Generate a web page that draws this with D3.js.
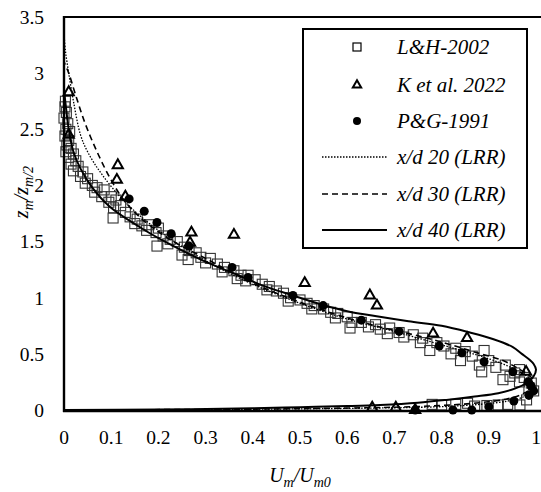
<!DOCTYPE html>
<html>
<head>
<meta charset="utf-8">
<script src="https://cdn.jsdelivr.net/npm/d3@7"></script>
<style>
  body { margin: 0; background: #fff; }
  svg { display: block; }
</style>
</head>
<body>
<svg id="chart" width="541" height="492"></svg>
<script>

// ---- data (u = U_m/U_m0, z = z_m/z_m/2) ----
var xTicks = [0, 0.1, 0.2, 0.3, 0.4, 0.5, 0.6, 0.7, 0.8, 0.9, 1];
var yTicks = [0, 0.5, 1, 1.5, 2, 2.5, 3, 3.5];

// L&H-2002 (open squares)
var lh2002 = [
  [0.003,2.75],[0.002,2.7],[0.005,2.65],[0.0,2.6],[0.008,2.55],[0.004,2.5],[0.012,2.48],
  [0.002,2.44],[0.01,2.4],[0.006,2.36],[0.015,2.33],[0.004,2.3],[0.02,2.28],[0.01,2.25],
  [0.025,2.22],[0.015,2.19],[0.03,2.17],[0.02,2.13],[0.04,2.12],[0.035,2.08],[0.05,2.06],
  [0.045,2.02],[0.06,2.0],[0.07,1.98],[0.065,1.94],[0.085,1.96],[0.08,1.9],[0.1,1.9],
  [0.095,1.85],[0.11,1.87],[0.105,1.8],[0.12,1.82],[0.104,1.71],[0.13,1.76],[0.14,1.72],
  [0.155,1.7],[0.15,1.66],[0.165,1.64],[0.18,1.65],[0.175,1.6],[0.195,1.58],[0.2,1.62],
  [0.197,1.46],[0.21,1.55],[0.225,1.52],[0.22,1.48],[0.24,1.5],[0.255,1.45],[0.265,1.42],
  [0.25,1.38],[0.263,1.34],[0.28,1.4],[0.29,1.36],[0.31,1.35],[0.3,1.31],[0.325,1.3],
  [0.34,1.27],[0.335,1.23],[0.36,1.24],[0.367,1.17],[0.375,1.2],[0.39,1.2],[0.385,1.15],
  [0.405,1.16],[0.42,1.12],[0.435,1.1],[0.43,1.07],[0.45,1.06],[0.465,1.04],[0.48,1.0],
  [0.475,0.97],[0.5,0.98],[0.515,0.95],[0.53,0.93],[0.525,0.9],[0.55,0.9],[0.565,0.87],
  [0.58,0.86],[0.575,0.82],[0.6,0.83],[0.61,0.78],[0.606,0.73],[0.63,0.78],[0.645,0.74],
  [0.66,0.76],[0.67,0.72],[0.69,0.73],[0.685,0.68],[0.71,0.69],[0.72,0.65],[0.74,0.67],
  [0.755,0.6],[0.76,0.64],[0.775,0.53],[0.79,0.6],[0.805,0.57],[0.82,0.5],[0.83,0.55],
  [0.84,0.44],[0.85,0.52],[0.865,0.48],[0.88,0.4],[0.89,0.53],[0.885,0.34],[0.9,0.44],
  [0.915,0.38],[0.93,0.27],[0.935,0.4],[0.945,0.3],[0.955,0.33],[0.965,0.36],[0.965,0.25],
  [0.975,0.29],[0.985,0.2],[0.99,0.24],[0.995,0.17],[0.98,0.09],[0.966,0.045],[0.94,0.05],
  [0.92,0.045],[0.896,0.04],[0.87,0.035],[0.855,0.06],[0.83,0.05],[0.8,0.045],[0.78,0.05]
];

// K et al. 2022 (open triangles)
var ket2022 = [
  [0.01,2.83],[0.01,2.45],[0.114,2.18],[0.112,2.05],[0.13,1.9],[0.27,1.58],[0.267,1.49],
  [0.36,1.56],[0.51,1.13],[0.648,1.02],[0.663,0.93],[0.782,0.68],[0.854,0.64],[0.979,0.34],
  [0.653,0.02],[0.703,0.02],[0.744,0.0]
];

// P&G-1991 (filled circles)
var pg1991 = [
  [0.138,1.88],[0.17,1.77],[0.197,1.67],[0.227,1.57],[0.265,1.46],[0.356,1.27],[0.39,1.18],
  [0.485,1.02],[0.549,0.93],[0.63,0.8],[0.71,0.7],[0.795,0.57],[0.843,0.51],[0.89,0.43],
  [0.951,0.34],[0.983,0.25],[0.99,0.21],[0.995,0.17],[0.985,0.13],[0.953,0.08],[0.9,0.03],
  [0.864,0.0],[0.824,0.0],[0.744,0.0]
];

// LRR profiles
var lrr20 = [
  [0,0],[0.3,0.004],[0.5,0.01],[0.7,0.02],[0.8,0.03],[0.88,0.05],[0.94,0.08],[0.975,0.12],
  [0.99,0.17],[0.995,0.22],[0.99,0.27],[0.97,0.33],[0.93,0.41],[0.875,0.49],[0.8,0.58],
  [0.7,0.7],[0.6,0.81],[0.5,0.95],[0.4,1.12],[0.3,1.33],[0.2,1.6],[0.13,1.85],[0.08,2.1],
  [0.05,2.3],[0.035,2.45],[0.02,2.75],[0.01,3.0],[0.003,3.2],[0,3.35]
];
var lrr30 = [
  [0,0],[0.3,0.005],[0.5,0.012],[0.7,0.025],[0.8,0.04],[0.88,0.065],[0.94,0.1],[0.975,0.15],
  [0.99,0.2],[0.995,0.26],[0.985,0.31],[0.966,0.36],[0.93,0.44],[0.875,0.51],[0.82,0.58],
  [0.76,0.65],[0.669,0.74],[0.6,0.82],[0.5,0.96],[0.4,1.13],[0.3,1.35],[0.22,1.53],
  [0.16,1.72],[0.125,1.88],[0.097,2.07],[0.07,2.3],[0.045,2.55],[0.025,2.8],[0.01,3.0],[0,3.1]
];
var lrr40 = [
  [0,0],[0.2,0.005],[0.4,0.015],[0.5,0.025],[0.6,0.035],[0.67,0.045],[0.75,0.065],[0.81,0.09],
  [0.87,0.12],[0.92,0.15],[0.955,0.19],[0.98,0.24],[0.995,0.3],[1.0,0.36],[0.995,0.41],
  [0.987,0.445],[0.97,0.5],[0.951,0.56],[0.91,0.63],[0.86,0.69],[0.8,0.75],[0.73,0.79],
  [0.669,0.83],[0.6,0.88],[0.549,0.935],[0.485,1.02],[0.42,1.11],[0.358,1.22],[0.29,1.34],
  [0.218,1.49],[0.16,1.63],[0.097,1.81],[0.06,1.98],[0.035,2.15],[0.02,2.3],[0.01,2.5],
  [0.004,2.7],[0,2.85]
];

var legendItems = [
  {label: "L&H-2002", type: "square"},
  {label: "K et al. 2022", type: "triangle"},
  {label: "P&G-1991", type: "circle"},
  {label: "x/d 20 (LRR)", type: "line", dash: "1.5,1.5", w: 1.3},
  {label: "x/d 30 (LRR)", type: "line", dash: "6,4", w: 1.6},
  {label: "x/d 40 (LRR)", type: "line", dash: null, w: 2}
];

var serif = "Liberation Serif";

// ---- layout ----
var svg = d3.select("#chart");

var x = d3.scaleLinear()
    .domain([0, 1])
    .range([64, 536]);

var y = d3.scaleLinear()
    .domain([0, 3.5])
    .range([410, 17]);

var line = d3.line()
    .x(function(d) { return x(d[0]); })
    .y(function(d) { return y(d[1]); })
    .curve(d3.curveCatmullRom.alpha(0.5));

var fmt = function(d) { return (d === 0 || d === 1 || d === 2 || d === 3) ? String(d) : d.toFixed(1); };

// squares first (bottom layer)
var sq = 10;
svg.append("g").selectAll("rect")
    .data(lh2002)
  .enter().append("rect")
    .attr("x", function(d) { return x(d[0]) - sq/2; })
    .attr("y", function(d) { return y(d[1]) - sq/2; })
    .attr("width", sq)
    .attr("height", sq)
    .style("fill", "none")
    .style("stroke", "#333")
    .style("stroke-width", 1.1);

// LRR lines
svg.append("path").datum(lrr20)
    .attr("d", line)
    .style("fill", "none").style("stroke", "#000")
    .style("stroke-width", 1.3).style("stroke-dasharray", "1.5,1.5");

svg.append("path").datum(lrr30)
    .attr("d", line)
    .style("fill", "none").style("stroke", "#000")
    .style("stroke-width", 1.6).style("stroke-dasharray", "6,4");

svg.append("path").datum(lrr40)
    .attr("d", line)
    .style("fill", "none").style("stroke", "#000")
    .style("stroke-width", 2);

// circles
svg.append("g").selectAll("circle")
    .data(pg1991)
  .enter().append("circle")
    .attr("cx", function(d) { return x(d[0]); })
    .attr("cy", function(d) { return y(d[1]); })
    .attr("r", 4.5)
    .style("fill", "#000");

// triangles
var tri = d3.symbol().type(d3.symbolTriangle).size(45);
svg.append("g").selectAll("path")
    .data(ket2022)
  .enter().append("path")
    .attr("d", tri)
    .attr("transform", function(d) { return "translate(" + x(d[0]) + "," + y(d[1]) + ")"; })
    .style("fill", "none")
    .style("stroke", "#000")
    .style("stroke-width", 2);

// axes frame
svg.append("line").attr("x1", 64).attr("x2", 541).attr("y1", 17).attr("y2", 17)
    .style("stroke", "#000").style("stroke-width", 2.2);
svg.append("line").attr("x1", 64).attr("x2", 64).attr("y1", 16).attr("y2", 412)
    .style("stroke", "#000").style("stroke-width", 2.4);
svg.append("line").attr("x1", 63).attr("x2", 541).attr("y1", 411).attr("y2", 411)
    .style("stroke", "#000").style("stroke-width", 2.4);

// tick labels
svg.append("g").selectAll("text")
    .data(xTicks)
  .enter().append("text")
    .attr("x", function(d) { return x(d); })
    .attr("y", 444)
    .attr("text-anchor", "middle")
    .attr("font-family", serif)
    .attr("font-size", 19.5)
    .text(fmt);

svg.append("g").selectAll("text")
    .data(yTicks)
  .enter().append("text")
    .attr("x", 44)
    .attr("y", function(d) { return y(d); })
    .attr("dy", "0.35em")
    .attr("text-anchor", "end")
    .attr("font-family", serif)
    .attr("font-size", 19.5)
    .text(fmt);

// axis titles
var xt = svg.append("text")
    .attr("x", 300)
    .attr("y", 482)
    .attr("text-anchor", "middle")
    .attr("font-family", serif)
    .attr("font-size", 20)
    .attr("font-style", "italic");
xt.append("tspan").text("U");
xt.append("tspan").attr("dy", 5).attr("font-size", 14).text("m");
xt.append("tspan").attr("dy", -5).text("/U");
xt.append("tspan").attr("dy", 5).attr("font-size", 14).text("m0");

var yt = svg.append("text")
    .attr("transform", "translate(28,192) rotate(-90)")
    .attr("text-anchor", "middle")
    .attr("font-family", serif)
    .attr("font-size", 20)
    .attr("font-style", "italic");
yt.append("tspan").text("z");
yt.append("tspan").attr("dy", 5).attr("font-size", 14).text("m");
yt.append("tspan").attr("dy", -5).text("/z");
yt.append("tspan").attr("dy", 5).attr("font-size", 14).text("m/2");

// legend
var lg = svg.append("g");
lg.append("rect")
    .attr("x", 303).attr("y", 29)
    .attr("width", 224).attr("height", 219)
    .style("fill", "#fff")
    .style("stroke", "#000")
    .style("stroke-width", 2);

var rowY = [47, 85, 121, 157, 194, 230];
legendItems.forEach(function(it, i) {
  var cy = rowY[i];
  if (it.type === "square") {
    lg.append("rect").attr("x", 353).attr("y", cy - 4).attr("width", 8).attr("height", 8)
      .style("fill", "none").style("stroke", "#000").style("stroke-width", 1.2);
  } else if (it.type === "triangle") {
    lg.append("path").attr("d", d3.symbol().type(d3.symbolTriangle).size(30))
      .attr("transform", "translate(357," + cy + ")")
      .style("fill", "none").style("stroke", "#000").style("stroke-width", 2);
  } else if (it.type === "circle") {
    lg.append("circle").attr("cx", 357).attr("cy", cy).attr("r", 4)
      .style("fill", "#000");
  } else {
    lg.append("line").attr("x1", 322).attr("x2", 387).attr("y1", cy).attr("y2", cy)
      .style("stroke", "#000").style("stroke-width", it.w)
      .style("stroke-dasharray", it.dash);
  }
  lg.append("text")
    .attr("x", 397)
    .attr("y", cy)
    .attr("dy", "0.35em")
    .attr("font-family", serif)
    .attr("font-size", 21)
    .attr("font-style", "italic")
    .text(it.label);
});

</script>
</body>
</html>
